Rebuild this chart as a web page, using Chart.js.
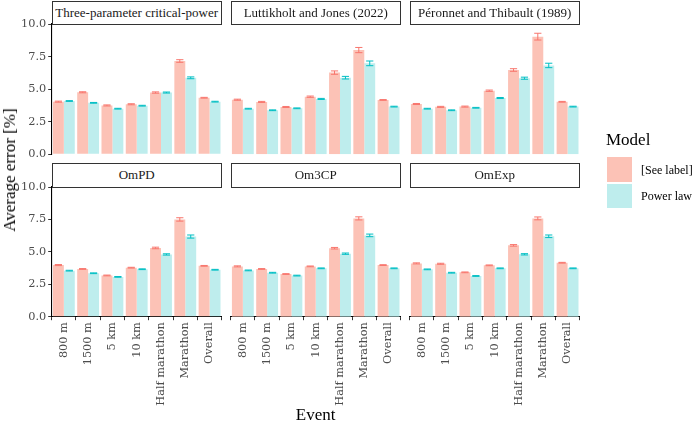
<!DOCTYPE html>
<html><head><meta charset="utf-8">
<script src="https://cdn.jsdelivr.net/npm/chart.js@4.4.1/dist/chart.umd.min.js"></script>
<style>
html,body{margin:0;padding:0;background:#fff;}
body{width:700px;height:426px;position:relative;overflow:hidden;font-family:"Liberation Serif","DejaVu Serif",serif;}
canvas{position:absolute;left:0;top:0;}
.strip{position:absolute;box-sizing:border-box;border:1.2px solid #333;background:#fff;font-size:13px;color:#1a1a1a;text-align:center;display:flex;align-items:center;justify-content:center;z-index:5;}
.txt{position:absolute;white-space:nowrap;color:#000;z-index:5;font-weight:normal;}
.key{position:absolute;width:25px;height:24.5px;z-index:5;}
</style></head>
<body>
<script>
// ---------- data ----------
const events = ['800 m','1500 m','5 km','10 km','Half marathon','Marathon','Overall'];
const panelTitles = ['Three-parameter critical-power','Luttikholt and Jones (2022)','Péronnet and Thibault (1989)','OmPD','Om3CP','OmExp'];
const seriesNames = ['[See label]','Power law'];
const yTicks = [0, 2.5, 5, 7.5, 10];

const tcpLabel   = [4.04, 4.76, 3.75, 3.84, 4.74, 7.16, 4.34];
const tcpPower   = [4.09, 3.95, 3.50, 3.73, 4.74, 5.87, 4.04];
const tcpLabelSe = [0.04, 0.04, 0.04, 0.04, 0.05, 0.10, 0.03];
const tcpPowerSe = [0.03, 0.03, 0.03, 0.03, 0.04, 0.07, 0.03];

const ljLabel   = [4.19, 4.02, 3.63, 4.42, 6.27, 8.00, 4.17];
const ljPower   = [3.50, 3.38, 3.53, 4.25, 5.88, 6.98, 3.66];
const ljLabelSe = [0.04, 0.04, 0.04, 0.05, 0.13, 0.20, 0.03];
const ljPowerSe = [0.03, 0.03, 0.03, 0.04, 0.10, 0.18, 0.03];

const ptLabel   = [3.86, 3.64, 3.66, 4.88, 6.47, 9.03, 4.03];
const ptPower   = [3.50, 3.38, 3.57, 4.32, 5.84, 6.82, 3.66];
const ptLabelSe = [0.04, 0.04, 0.04, 0.05, 0.10, 0.26, 0.03];
const ptPowerSe = [0.03, 0.03, 0.03, 0.04, 0.08, 0.17, 0.03];

const ompdLabel   = [3.98, 3.68, 3.18, 3.78, 5.30, 7.50, 3.92];
const ompdPower   = [3.55, 3.35, 3.07, 3.66, 4.80, 6.18, 3.62];
const ompdLabelSe = [0.04, 0.03, 0.03, 0.03, 0.06, 0.13, 0.03];
const ompdPowerSe = [0.03, 0.03, 0.03, 0.03, 0.05, 0.12, 0.03];

const om3cpLabel   = [3.88, 3.68, 3.29, 3.88, 5.28, 7.58, 3.98];
const om3cpPower   = [3.57, 3.39, 3.17, 3.73, 4.86, 6.27, 3.73];
const om3cpLabelSe = [0.04, 0.03, 0.03, 0.03, 0.06, 0.12, 0.03];
const om3cpPowerSe = [0.03, 0.03, 0.03, 0.03, 0.05, 0.10, 0.03];

const omexpLabel   = [4.11, 4.08, 3.42, 3.96, 5.50, 7.58, 4.16];
const omexpPower   = [3.65, 3.39, 3.14, 3.73, 4.81, 6.20, 3.73];
const omexpLabelSe = [0.04, 0.04, 0.03, 0.03, 0.06, 0.11, 0.03];
const omexpPowerSe = [0.03, 0.03, 0.03, 0.03, 0.05, 0.10, 0.03];

const panelData = [
  [tcpLabel, tcpPower, tcpLabelSe, tcpPowerSe],
  [ljLabel, ljPower, ljLabelSe, ljPowerSe],
  [ptLabel, ptPower, ptLabelSe, ptPowerSe],
  [ompdLabel, ompdPower, ompdLabelSe, ompdPowerSe],
  [om3cpLabel, om3cpPower, om3cpLabelSe, om3cpPowerSe],
  [omexpLabel, omexpPower, omexpLabelSe, omexpPowerSe]
];

// ---------- styling / layout ----------
const W = 700, H = 426;
const fills = ['#FCC2B6', '#BEEDED'];
const lines = ['#F8766D', '#00BFC4'];
const cols = [[51.7, 221.7], [230.7, 400.7], [409.7, 579.7]];
const rows = [[24, 154.3], [187, 316.7]];
const TICKFONT = 'DejaVu Serif';
const TICKSIZE = 11.3;
const YW = 51.7, XH = 100;

const errPlugin = {
  id: 'errbars',
  afterDatasetsDraw(chart) {
    const ctx = chart.ctx, ys = chart.scales.y;
    chart.data.datasets.forEach((ds, di) => {
      const meta = chart.getDatasetMeta(di);
      ctx.save();
      ctx.strokeStyle = ds.errColor;
      ctx.lineWidth = 1;
      meta.data.forEach((bar, i) => {
        const v = ds.data[i], e = ds.err[i];
        const y1 = ys.getPixelForValue(v + e), y2 = ys.getPixelForValue(v - e);
        const hw = bar.width * 0.33;
        ctx.beginPath();
        ctx.moveTo(bar.x - hw, y1); ctx.lineTo(bar.x + hw, y1);
        ctx.moveTo(bar.x, y1); ctx.lineTo(bar.x, y2);
        ctx.moveTo(bar.x - hw, y2); ctx.lineTo(bar.x + hw, y2);
        ctx.stroke();
      });
      ctx.restore();
    });
  }
};

function addDiv(cls, style, text) {
  const d = document.createElement('div');
  d.className = cls;
  Object.assign(d.style, style);
  if (text !== undefined) d.textContent = text;
  document.body.appendChild(d);
  return d;
}

panelTitles.forEach((title, p) => {
  const r = Math.floor(p / 3), c = p % 3;
  const [L, R] = cols[c], [T, B] = rows[r];
  const showX = r === 1, showY = c === 0;
  const cv = document.createElement('canvas');
  cv.width = W; cv.height = H;
  document.body.appendChild(cv);
  const [lab, pow, labSe, powSe] = panelData[p];
  new Chart(cv, {
    type: 'bar',
    data: {
      labels: events,
      datasets: [
        { label: seriesNames[0], data: lab, err: labSe, errColor: lines[0], backgroundColor: fills[0], borderWidth: 0, categoryPercentage: 0.9, barPercentage: 1.0 },
        { label: seriesNames[1], data: pow, err: powSe, errColor: lines[1], backgroundColor: fills[1], borderWidth: 0, categoryPercentage: 0.9, barPercentage: 1.0 }
      ]
    },
    options: {
      responsive: false,
      animation: false,
      devicePixelRatio: 1,
      layout: { padding: { left: showY ? L - YW : L, right: W - R, top: T, bottom: showX ? H - B - XH : H - B } },
      plugins: { legend: { display: false }, tooltip: { enabled: false }, title: { display: false } },
      scales: {
        x: {
          display: showX,
          offset: true,
          grid: { display: true, drawOnChartArea: false, drawTicks: true, tickLength: 3.5, color: '#333', lineWidth: 1 },
          border: { display: true, color: '#000', width: 1.1 },
          ticks: { autoSkip: false, minRotation: 90, maxRotation: 90, padding: 2, color: '#4d4d4d', font: { family: TICKFONT, size: TICKSIZE } },
          afterFit(s) { s.height = showX ? XH : 0; }
        },
        y: {
          display: showY,
          min: 0, max: 10,
          afterBuildTicks(s) { s.ticks = yTicks.map(v => ({ value: v })); },
          grid: { display: true, drawOnChartArea: false, drawTicks: true, tickLength: 3.5, color: '#333', lineWidth: 1 },
          border: { display: true, color: '#000', width: 1.1 },
          ticks: { padding: 2, color: '#4d4d4d', font: { family: TICKFONT, size: TICKSIZE }, callback: v => Number(v).toFixed(1) },
          afterFit(s) { s.width = showY ? YW : 0; }
        }
      }
    },
    plugins: [errPlugin]
  });
  // facet strip
  const sTop = r === 0 ? 1 : 162.7;
  addDiv('strip', { left: L + 'px', top: sTop + 'px', width: (R - L) + 'px', height: (T - sTop + 0.6) + 'px' }, title);
});

// axis titles
addDiv('txt', { left: '9.5px', top: '170px', fontSize: '17px', transform: 'translate(-50%,-50%) rotate(-90deg)' }, 'Average error [%]');
addDiv('txt', { left: '315.7px', top: '415px', fontSize: '17px', transform: 'translate(-50%,-50%)' }, 'Event');

// legend
addDiv('txt', { left: '606px', top: '140px', fontSize: '17px', transform: 'translate(0,-50%)' }, 'Model');
addDiv('key', { left: '606.7px', top: '157.3px', background: fills[0] });
addDiv('key', { left: '606.7px', top: '183.6px', background: fills[1] });
addDiv('txt', { left: '641px', top: '169.5px', fontSize: '12px', transform: 'translate(0,-50%)' }, seriesNames[0]);
addDiv('txt', { left: '641px', top: '196px', fontSize: '12px', transform: 'translate(0,-50%)' }, seriesNames[1]);
</script>
</body></html>
